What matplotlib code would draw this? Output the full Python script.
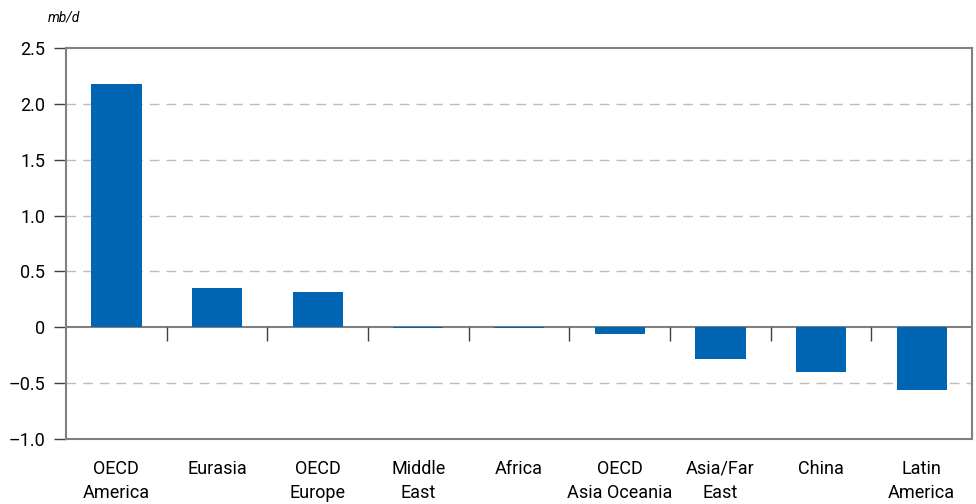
import matplotlib.pyplot as plt
import numpy as np

plt.rcParams["font.family"] = ["Roboto", "DejaVu Sans"]

regions = ["OECD\nAmerica", "Eurasia", "OECD\nEurope", "Middle\nEast", "Africa",
           "OECD\nAsia Oceania", "Asia/Far\nEast", "China", "Latin\nAmerica"]
values = [2.18, 0.35, 0.32, -0.01, -0.01, -0.06, -0.28, -0.40, -0.56]
yticks = [-1.0, -0.5, 0, 0.5, 1.0, 1.5, 2.0, 2.5]
ytick_labels = ["\u20131.0", "\u20130.5", "0", "0.5", "1.0", "1.5", "2.0", "2.5"]

fig = plt.figure(figsize=(9.76, 5.04), dpi=100)
ax = fig.add_axes([66 / 976, 65 / 504, 906 / 976, 391 / 504])

x = np.arange(len(regions))
ax.bar(x, values, width=0.5, color="#0066b3", zorder=3)

ax.set_xlim(-0.5, len(regions) - 0.5)
ax.set_ylim(-1.0, 2.5)

# gridlines: dashed, zero line solid
for y in yticks[1:-1]:
    if y == 0:
        ax.axhline(0, color="#808080", lw=1.5, zorder=2)
    else:
        ax.axhline(y, color="#bdbdbd", lw=1, ls=(0, (7, 5)), zorder=1)

# category separators hanging below zero line
ax.vlines(x[1:] - 0.5, -0.125, 0, color="#404040", lw=1, zorder=2)

ax.set_yticks(yticks)
ax.set_yticklabels(ytick_labels, fontsize=13)
ax.tick_params(axis="y", length=9, width=1, color="#404040", pad=6)
ax.set_xticks(x)
ax.set_xticklabels(regions, fontsize=13, linespacing=1.45, va="top")
ax.tick_params(axis="x", length=0, pad=15)

for s in ax.spines.values():
    s.set_color("#808080")
    s.set_linewidth(1.5)

fig.text(48 / 976, 1 - 18 / 504, "mb/d", fontsize=10, style="italic", va="center")

plt.savefig("out.png")
